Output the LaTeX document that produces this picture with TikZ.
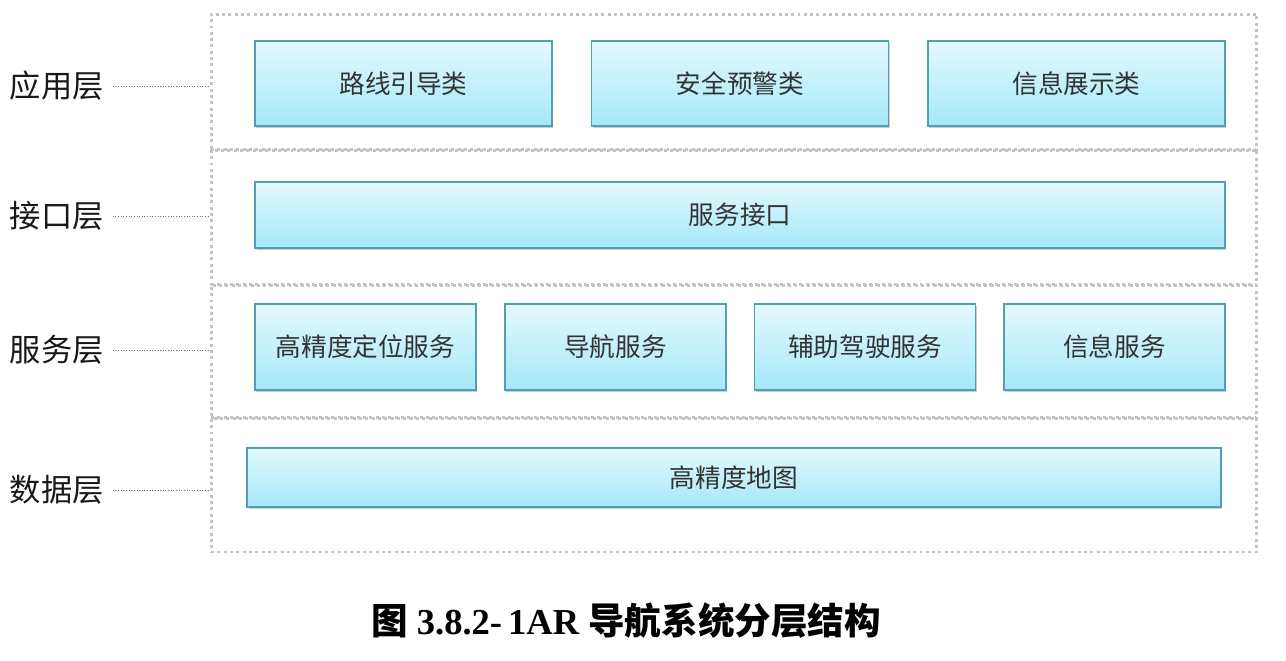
\documentclass[tikz,border=0pt]{standalone}
\usepackage{fontspec}
\setmainfont{Liberation Serif}
\newfontfamily\cjk{Noto Sans CJK SC}
\usepackage{tikz}
\usetikzlibrary{positioning,shadows,calc}
\definecolor{boxtop}{RGB}{228, 249, 254}
\definecolor{boxbottom}{RGB}{164, 232, 249}
\definecolor{boxline}{RGB}{80, 160, 180}
\definecolor{layerline}{RGB}{196, 196, 196}

\begin{document}
\begin{tikzpicture}[x=0.02cm,y=-0.02cm,
box/.style={draw=boxline,line width=0.8pt,top color=boxtop,bottom color=boxbottom,inner sep=0pt,font=\cjk\fontsize{14.6}{17}\selectfont,text=black!80,drop shadow={shadow xshift=0.8pt,shadow yshift=-1.4pt,opacity=0.4}},
layer/.style={draw=layerline,line width=1.7pt,dash pattern=on 1.7pt off 1.9pt,minimum width=20.92cm,inner sep=0pt},
lab/.style={anchor=east,font=\cjk\fontsize{17.8}{21}\selectfont,inner sep=0pt,text=black!90},
link/.style={densely dotted,black!55,line width=0.5pt}]
\useasboundingbox (0,0) rectangle (1286,660);
% layers
\node[layer,minimum height=2.72cm](L1) at (734,82){}; \node[layer,minimum height=2.70cm](L2) at (734,217.5){};
\node[layer,minimum height=2.66cm](L3) at (734,351.5){}; \node[layer,minimum height=2.68cm](L4) at (734,485){};
% application layer
\node[box,minimum width=5.94cm,minimum height=1.7cm](route) at (403.5,83.5){路线引导类};
\node[box,minimum width=5.94cm,minimum height=1.7cm](warn) at (740,83.5){安全预警类};
\node[box,minimum width=5.94cm,minimum height=1.7cm](show) at (1076.5,83.5){信息展示类};
% interface layer
\node[box,minimum width=19.4cm,minimum height=1.32cm](api) at (740,215){服务接口};
% service layer
\node[box,minimum width=4.42cm,minimum height=1.72cm](pos) at (365.5,347){高精度定位服务};
\node[box,minimum width=4.42cm,minimum height=1.72cm](nav) at (615.5,347){导航服务};
\node[box,minimum width=4.42cm,minimum height=1.72cm](adas) at (865,347){辅助驾驶服务};
\node[box,minimum width=4.42cm,minimum height=1.72cm](info) at (1114.5,347){信息服务};
% data layer
\node[box,minimum width=19.48cm,minimum height=1.18cm](hdmap) at (734,477.5){高精度地图};
% layer labels
\node[lab](t1) at (104,86){应用层}; \node[lab](t2) at (104,216){接口层};
\node[lab](t3) at (104,350){服务层}; \node[lab](t4) at (104,490){数据层};
\draw[link]([xshift=5pt]t1.east)--(L1.west|-t1.east); \draw[link]([xshift=5pt]t2.east)--(L2.west|-t2.east);
\draw[link]([xshift=5pt]t3.east)--(L3.west|-t3.east); \draw[link]([xshift=5pt]t4.east)--(L4.west|-t4.east);
% caption
\node[font=\fontsize{20.8}{24}\selectfont\bfseries](cap) at (626,621){{\cjk 图}\ 3.8.2-\,1AR {\cjk 导航系统分层结构}};
\end{tikzpicture}
\end{document}
